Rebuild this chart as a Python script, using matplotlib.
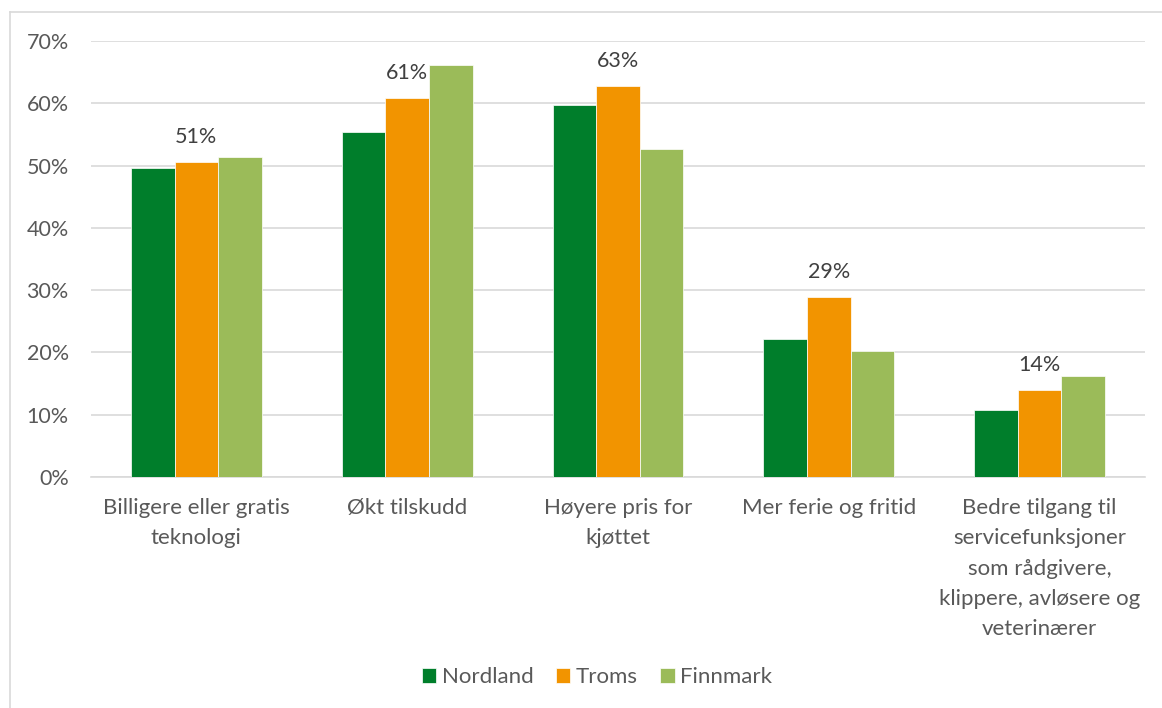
import numpy as np
import matplotlib.pyplot as plt
from matplotlib.lines import Line2D

plt.rcParams['font.family'] = ['Lato', 'DejaVu Sans']

categories = ["Billigere eller gratis\nteknologi", "Økt tilskudd", "Høyere pris for\nkjøttet",
              "Mer ferie og fritid",
              "Bedre tilgang til\nservicefunksjoner\nsom rådgivere,\nklippere, avløsere og\nveterinærer"]
series = ["Nordland", "Troms", "Finnmark"]
nordland = [49.6, 55.4, 59.7, 22.2, 10.8]
troms = [50.6, 60.8, 62.8, 28.9, 14.0]
finnmark = [51.4, 66.1, 52.6, 20.2, 16.2]
troms_labels = ["51%", "61%", "63%", "29%", "14%"]
colors = ["#007E2B", "#F29400", "#9BBB59"]

fig = plt.figure(figsize=(11.62, 7.08), dpi=100)
ax = fig.add_axes([91/1162, 1-477/708, (1145-91)/1162, (477-41)/708])

x = np.arange(len(categories))
w = 0.207
for i, (vals, name) in enumerate(zip([nordland, troms, finnmark], series)):
    ax.bar(x + (i-1)*w, vals, w, color=colors[i], label=name, zorder=3,
           edgecolor='white', linewidth=0.5)

for xi, v, t in zip(x, troms, troms_labels):
    ax.text(xi, v + 2.4, t, ha='center', va='bottom', fontsize=15.5, color='#404040')

ax.set_xlim(-0.5, 4.5)
ax.set_ylim(0, 70)
ax.set_yticks(range(0, 71, 10))
ax.set_yticklabels([f"{t}%" for t in range(0, 71, 10)])
ax.yaxis.grid(True, color='#D9D9D9', linewidth=1.2, zorder=0)
for s in ['top', 'right', 'left']:
    ax.spines[s].set_visible(False)
ax.spines['bottom'].set_color('#D9D9D9')
ax.spines['bottom'].set_linewidth(1.2)
ax.tick_params(axis='both', length=0, labelsize=15.5, colors='#595959')
ax.tick_params(axis='y', pad=16)
ax.tick_params(axis='x', pad=15, labelsize=16)
ax.set_xticks(x)
ax.set_xticklabels(categories, linespacing=1.65)

ax.legend(loc='center', bbox_to_anchor=(597/1162, 1-677/708), bbox_transform=fig.transFigure,
          ncol=3, frameon=False, fontsize=16, labelcolor='#595959', handlelength=0.65,
          handleheight=0.65, handletextpad=0.25, columnspacing=1.0)

# chart area border (left and top visible)
fig.add_artist(Line2D([10/1162, 10/1162], [0, 1-12/708], color='#D9D9D9', linewidth=1.2,
                      transform=fig.transFigure))
fig.add_artist(Line2D([10/1162, 1], [1-12/708, 1-12/708], color='#D9D9D9', linewidth=1.2,
                      transform=fig.transFigure))

fig.savefig("out.png", dpi=100)
